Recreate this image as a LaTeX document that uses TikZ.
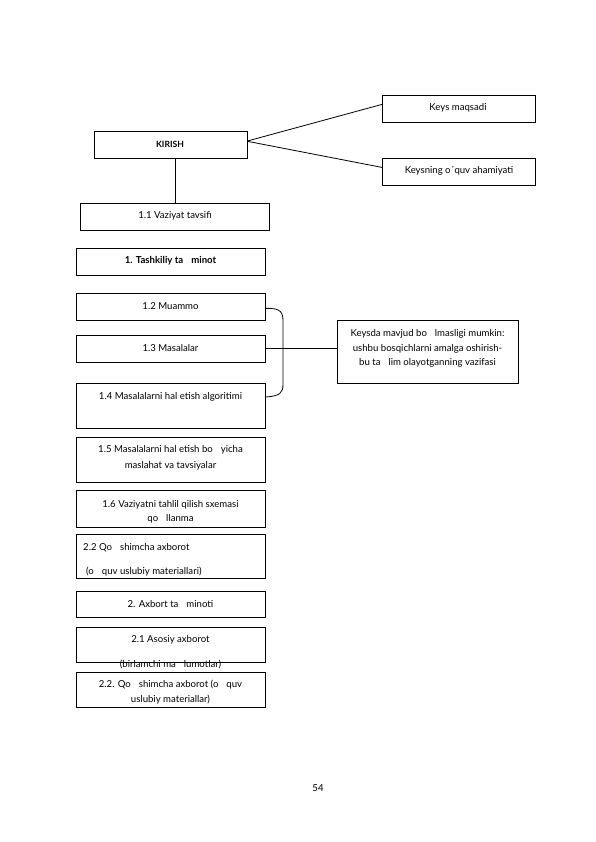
\documentclass[tikz,border=0pt]{standalone}
\usepackage{fontspec}
\setmainfont{Lato}
\begin{document}
\begin{tikzpicture}[x=1pt,y=-1pt,
  box/.style={draw,line width=0.8pt,inner sep=0pt,anchor=north west},
  txt/.style={font=\fontsize{9.6}{11}\selectfont,inner sep=0pt},
  bt/.style={font=\fontsize{9.6}{11}\selectfont\bfseries,inner sep=0pt},
  ln/.style={line width=0.8pt}]
\useasboundingbox (0,0) rectangle (595,842);
% boxes
\node[box,minimum width=153,minimum height=27] (km) at (382,95) {};
\node[box,minimum width=153,minimum height=27] (kir) at (94,131) {};
\node[box,minimum width=153,minimum height=27] (ko) at (382,158) {};
\node[box,minimum width=189,minimum height=27] (b11) at (80,203) {};
\node[box,minimum width=189,minimum height=27] (b1) at (76,248) {};
\node[box,minimum width=189,minimum height=27] (b12) at (76,293) {};
\node[box,minimum width=189,minimum height=27] (b13) at (76,335) {};
\node[box,minimum width=189,minimum height=45] (b14) at (76,383) {};
\node[box,minimum width=181,minimum height=63] (kd) at (337,320) {};
\node[box,minimum width=189,minimum height=45] (b15) at (76,437) {};
\node[box,minimum width=189,minimum height=37] (b16) at (76,490) {};
\node[box,minimum width=189,minimum height=44] (b22) at (76,534) {};
\node[box,minimum width=189,minimum height=26] (b2) at (76,591) {};
\node[box,minimum width=189,minimum height=35] (b21) at (76,627) {};
\node[box,minimum width=189,minimum height=35] (b22b) at (76,672) {};
% texts
\node[txt] (tkm) at (458,108) {Keys maqsadi};
\node[bt,font=\fontsize{8.6}{10}\selectfont\bfseries] (tkir) at (170,144) {KIRISH};
\node[txt] (tko) at (459,171) {Keysning o´quv ahamiyati};
\node[txt] (t11) at (175,216) {1.1 Vaziyat tavsifi};
\node[bt] (t1) at (170.5,261) {1. Tashkiliy ta\hspace{8pt}minot};
\node[txt] (t12) at (170.5,306) {1.2 Muammo};
\node[txt] (t13) at (170.5,348) {1.3 Masalalar};
\node[txt] (t14) at (170.5,397) {1.4 Masalalarni hal etish algoritimi};
\node[txt] (tkd1) at (427.5,334) {Keysda mavjud bo\hspace{8pt}lmasligi mumkin:};
\node[txt] (tkd2) at (427.5,348.5) {ushbu bosqichlarni amalga oshirish-};
\node[txt] (tkd3) at (427.5,363) {bu ta\hspace{8pt}lim olayotganning vazifasi};
\node[txt] (t15a) at (170.5,450) {1.5 Masalalarni hal etish bo\hspace{8pt}yicha};
\node[txt] (t15b) at (170.5,466) {maslahat va tavsiyalar};
\node[txt] (t16a) at (170.5,505) {1.6 Vaziyatni tahlil qilish sxemasi};
\node[txt] (t16b) at (170.5,518.5) {qo\hspace{8pt}llanma};
\node[txt,anchor=west] (t22a) at (83,548) {2.2 Qo\hspace{8pt}shimcha axborot};
\node[txt,anchor=west] (t22b) at (86,572) {(o\hspace{8pt}quv uslubiy materiallari)};
\node[txt] (t2) at (170.5,604) {2. Axbort ta\hspace{8pt}minoti};
\node[txt] (t21a) at (170.5,640) {2.1 Asosiy axborot};
\node[txt] (t21b) at (170.5,664) {(birlamchi ma\hspace{8pt}lumotlar)};
\node[txt] (t22c) at (170.5,684.5) {2.2. Qo\hspace{8pt}shimcha axborot (o\hspace{8pt}quv};
\node[txt] (t22d) at (170.5,700) {uslubiy materiallar)};
\node[txt] (pg) at (318,788) {54};
% connectors
\draw[ln] ([yshift=4]kir.east) -- ([yshift=4.5]km.west);
\draw[ln] ([yshift=3.5]kir.east) -- ([yshift=4.5]ko.west);
\draw[ln] ([xshift=4.5]kir.south) -- ([xshift=0.5]b11.north);
\draw[ln] ([yshift=-1.5]b12.east) .. controls (281,308) and (283,312) .. (283,322)
  -- (283,384) .. controls (283,393) and (280,396) .. (b14.north east |- 0,397);
\draw[ln] (b13.east |- 0,348) -- (kd.west |- 0,348);
\end{tikzpicture}
\end{document}
